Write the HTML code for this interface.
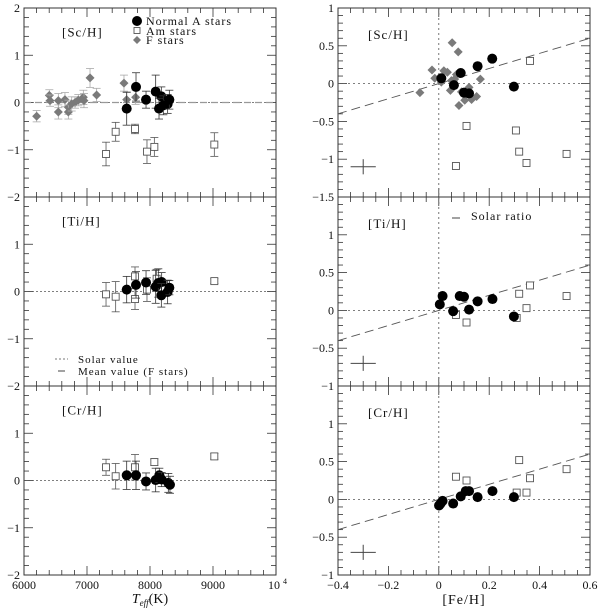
<!DOCTYPE html>
<html><head><meta charset="utf-8">
<style>
html,body{margin:0;padding:0;background:#fff;}
svg{display:block;font-family:"Liberation Serif",serif;}
</style></head>
<body>
<svg id="c" width="600" height="609" viewBox="0 0 600 609" xmlns="http://www.w3.org/2000/svg"></svg>
<script>
// ---------- Left column: abundance vs Teff ----------
const scF_T=[6201,6402,6413,6545,6545,6650,6704,6704,6757,6810,6862,6942,6952,7048,7153,7587,7630,7772];
const scF_v=[-0.29,0.15,0.04,0.04,-0.2,0.06,-0.1,-0.2,-0.03,0.0,0.05,0.11,0.04,0.52,0.16,0.41,0.06,0.11];
const scF_e=[0.12,0.12,0.12,0.15,0.15,0.15,0.15,0.15,0.15,0.12,0.12,0.15,0.15,0.2,0.14,0.17,0.15,0.15];
const scA_T=[7630,7778,7937,8090,8180,8143,8212,8280,8307];
const scA_v=[-0.13,0.33,0.06,0.23,0.13,-0.13,-0.06,-0.03,0.06];
const scA_e=[0.35,0.3,0.18,0.35,0.2,0.22,0.2,0.2,0.2];
const scM_T=[7302,7455,7762,7952,8069,9021];
const scM_v=[-1.09,-0.62,-0.56,-1.04,-0.94,-0.89];
const scM_e=[0.25,0.2,0.1,0.25,0.2,0.25];

const tiA_T=[7630,7778,7937,8090,8132,8185,8180,8280,8307];
const tiA_v=[0.04,0.14,0.19,0.1,0.18,0.2,-0.08,-0.01,0.08];
const tiA_e=[0.28,0.28,0.25,0.35,0.3,0.2,0.25,0.25,0.15];
const tiM_T=[7302,7455,7762,7762,7952,8105,9021];
const tiM_v=[-0.06,-0.11,0.32,-0.16,0.04,0.27,0.22];
const tiM_e=[0.25,0.32,0.2,0.22,0.25,0.2,0.05];

const crA_T=[7630,7778,7937,8090,8148,8185,8291,8317];
const crA_v=[0.11,0.11,-0.02,0.01,0.11,0.02,-0.05,-0.09];
const crA_e=[0.3,0.3,0.18,0.25,0.15,0.15,0.2,0.18];
const crM_T=[7302,7455,7762,8069,9021];
const crM_v=[0.28,0.09,0.28,0.39,0.51];
const crM_e=[0.17,0.27,0.27,0.07,0.06];

// ---------- Right column: abundance vs [Fe/H] ----------
const rScA_x=[0.01,0.087,0.154,0.212,0.298,0.06,0.12,0.1];
const rScA_v=[0.07,0.14,0.23,0.33,-0.04,-0.02,-0.13,-0.12];
const rScM_x=[0.068,0.11,0.306,0.319,0.348,0.362,0.507];
const rScM_v=[-1.09,-0.56,-0.62,-0.9,-1.05,0.3,-0.93];
const rScF_x=[-0.075,-0.027,-0.016,0.02,0.034,0.053,0.077,0.05,0.063,0.046,0.08,0.09,0.103,0.12,0.13,0.15,0.165,0.01,0.07];
const rScF_v=[-0.12,0.18,0.07,0.17,0.15,0.54,0.42,0.04,0.06,-0.09,-0.29,-0.11,-0.22,-0.05,-0.21,-0.17,0.06,0.02,0.12];

const rTiA_x=[0.004,0.015,0.057,0.083,0.1,0.12,0.154,0.213,0.298];
const rTiA_v=[0.08,0.19,-0.01,0.19,0.18,0.01,0.12,0.15,-0.08];
const rTiM_x=[0.068,0.11,0.309,0.319,0.348,0.362,0.507];
const rTiM_v=[-0.06,-0.16,-0.1,0.22,0.03,0.33,0.19];

const rCrA_x=[0.001,0.007,0.015,0.057,0.087,0.107,0.12,0.154,0.213,0.298];
const rCrA_v=[-0.08,-0.055,-0.02,-0.055,0.04,0.11,0.11,0.03,0.11,0.03];
const rCrM_x=[0.068,0.11,0.309,0.319,0.348,0.362,0.507];
const rCrM_v=[0.3,0.25,0.09,0.52,0.09,0.28,0.4];

const leftXTicks=[6000,7000,8000,9000];
const rightXTicks=[-0.4,-0.2,0,0.2,0.4,0.6];

const NS="http://www.w3.org/2000/svg";
const svg=document.getElementById('c');
const GRAY="#7a7a7a";
function mk(tag,attrs,parent){const e=document.createElementNS(NS,tag);for(const k in attrs)e.setAttribute(k,attrs[k]);(parent||svg).appendChild(e);return e;}
function txt(s,x,y,anchor,size,parent,ls){const t=mk('text',{x:x,y:y,'text-anchor':anchor,'font-size':size,fill:'#111','letter-spacing':ls||0},parent);t.textContent=s;return t;}

const rows=[[8,197],[197,386],[386,575]];
const LX=[24,276], RX=[338,590];

function makePanel(name,xr,xd,yr,yd){
  const g=mk('g',{});
  
  
  const sx=v=>xr[0]+(v-xd[0])/(xd[1]-xd[0])*(xr[1]-xr[0]);
  const sy=v=>yr[1]-(v-yd[0])/(yd[1]-yd[0])*(yr[1]-yr[0]);
  return {g,sx,sy};
}
function frame(p,xr,yr,xMinor,xMajor,xd,yMinor,yMajor,yd){
  const g=p.g;
  const eps=1e-9;
  for(let v=xd[0];v<=xd[1]+eps;v+=xMinor){
    const x=p.sx(v);const maj=Math.abs(v/xMajor-Math.round(v/xMajor))<1e-6;const L=maj?9:5;
    mk('line',{x1:x,x2:x,y1:yr[1],y2:yr[1]-L,stroke:'#333','stroke-width':0.8},g);
    mk('line',{x1:x,x2:x,y1:yr[0],y2:yr[0]+L,stroke:'#333','stroke-width':0.8},g);
  }
  for(let v=yd[0];v<=yd[1]+eps;v+=yMinor){
    const y=p.sy(v);const maj=Math.abs(v/yMajor-Math.round(v/yMajor))<1e-6;const L=maj?9:5;
    mk('line',{x1:xr[0],x2:xr[0]+L,y1:y,y2:y,stroke:'#333','stroke-width':0.8},g);
    mk('line',{x1:xr[1],x2:xr[1]-L,y1:y,y2:y,stroke:'#333','stroke-width':0.8},g);
  }
  mk('rect',{x:xr[0],y:yr[0],width:xr[1]-xr[0],height:yr[1]-yr[0],fill:'none',stroke:'#333','stroke-width':1},g);
}
function ylabels(p,vals,x,fmt){
  vals.forEach(v=>{const t=txt(fmt(v),x,p.sy(v)+4,'end',12,p.g);
    
    });
}
function circles(p,xs,vs,es){
  xs.forEach((x,i)=>{
    if(es){errbar(p,x,vs[i],es[i],'#333');}
    const c=mk('circle',{cx:p.sx(x),cy:p.sy(vs[i]),r:5,fill:'#000'},p.g);
    
    
  });
}
function squares(p,xs,vs,es){
  xs.forEach((x,i)=>{
    if(es){errbar(p,x,vs[i],es[i],'#555');}
    const s=mk('rect',{x:p.sx(x)-3.5,y:p.sy(vs[i])-3.5,width:7,height:7,fill:'#fff',stroke:'#555','stroke-width':0.9},p.g);
    
    
  });
}
function diamonds(p,xs,vs,es){
  xs.forEach((x,i)=>{
    if(es){errbar(p,x,vs[i],es[i],'#aaa');}
    const cx=p.sx(x),cy=p.sy(vs[i]),r=4.5;
    const d=mk('polygon',{points:`${cx},${cy-r} ${cx+r},${cy} ${cx},${cy+r} ${cx-r},${cy}`,fill:GRAY},p.g);
    
    
  });
}
function errbar(p,x,v,e,col){
  const cx=p.sx(x),y1=p.sy(v+e),y2=p.sy(v-e);
  mk('line',{x1:cx,x2:cx,y1:y1,y2:y2,stroke:col,'stroke-width':0.8},p.g);
  mk('line',{x1:cx-4,x2:cx+4,y1:y1,y2:y1,stroke:col,'stroke-width':0.8},p.g);
  mk('line',{x1:cx-4,x2:cx+4,y1:y2,y2:y2,stroke:col,'stroke-width':0.8},p.g);
}
function hline(p,v,xr,dash,col,w){mk('line',{x1:xr[0],x2:xr[1],y1:p.sy(v),y2:p.sy(v),stroke:col,'stroke-width':w||0.8,'stroke-dasharray':dash},p.g);}

// Left panels
const leftDefs=[
 {name:'sc-teff-panel',label:'[Sc/H]',F:[scF_T,scF_v,scF_e],A:[scA_T,scA_v,scA_e],M:[scM_T,scM_v,scM_e],yl:[2,1,0,-1,-2],mean:true},
 {name:'ti-teff-panel',label:'[Ti/H]',A:[tiA_T,tiA_v,tiA_e],M:[tiM_T,tiM_v,tiM_e],yl:[1,0,-1,-2]},
 {name:'cr-teff-panel',label:'[Cr/H]',A:[crA_T,crA_v,crA_e],M:[crM_T,crM_v,crM_e],yl:[1,0,-1,-2]}
];
leftDefs.forEach((d,i)=>{
  const yr=rows[i];
  const p=makePanel(d.name,LX,[6000,10000],yr,[-2,2]);
  frame(p,LX,yr,200,1000,[6000,10000],0.2,1,[-2,2]);
  hline(p,0,LX,'2,2','#555');
  if(d.mean){hline(p,0.0,LX,'7,4','#999',1.2);}
  ylabels(p,d.yl,20,v=>v<0?'\u2212'+(-v):String(v));
  const t=txt(d.label,62,p.sy(1.5)+5,'start',13,p.g,1);
  
  
  if(d.F)diamonds(p,d.F[0],d.F[1],d.F[2]);
  squares(p,d.M[0],d.M[1],d.M[2]);
  circles(p,d.A[0],d.A[1],d.A[2]);
  if(i===2){
    leftXTicks.forEach(v=>{const t=txt(String(v),p.sx(v),589,'middle',12,p.g);
      
      });
    const t=txt('10',p.sx(10000)-2,589,'middle',12,p.g);
    
    
    txt('4',p.sx(10000)+7,584,'start',8,p.g);
  }
  if(i===0){
    const lg=mk('g',{});
    
    
    mk('circle',{cx:137,cy:21,r:5,fill:'#000'},lg); txt('Normal A stars',146,25,'start',12,lg,1);
    mk('rect',{x:134,y:27.5,width:6,height:6,fill:'#fff',stroke:'#555','stroke-width':0.9},lg); txt('Am stars',146,35,'start',12,lg,1);
    mk('polygon',{points:'137,36 141,40 137,44 133,40',fill:GRAY},lg); txt('F stars',146,44,'start',12,lg,1);
  }
  if(i===1){
    const lg=mk('g',{});
    
    
    mk('line',{x1:55,x2:68,y1:359,y2:359,stroke:'#777','stroke-dasharray':'2,2'},lg);
    txt('Solar value',78,363,'start',11,lg,1);
    mk('line',{x1:58,x2:65,y1:371,y2:371,stroke:'#444'},lg);
    txt('Mean value (F stars)',78,375,'start',11,lg,1);
  }
});
const xt=mk('text',{x:150,y:603,'text-anchor':'middle','font-size':14,fill:'#111'});


xt.innerHTML='<tspan font-style="italic">T</tspan><tspan font-size="9" dy="3" font-style="italic">eff</tspan><tspan dy="-3">(K)</tspan>';

// Right panels
const rightDefs=[
 {name:'sc-feh-panel',label:'[Sc/H]',yd:[-1.5,1],F:[rScF_x,rScF_v],A:[rScA_x,rScA_v],M:[rScM_x,rScM_v],yl:[1,0.5,0,-0.5,-1,-1.5],cross:-1.1},
 {name:'ti-feh-panel',label:'[Ti/H]',yd:[-1,1.5],A:[rTiA_x,rTiA_v],M:[rTiM_x,rTiM_v],yl:[1,0.5,0,-0.5,-1],cross:-0.7},
 {name:'cr-feh-panel',label:'[Cr/H]',yd:[-1,1.5],A:[rCrA_x,rCrA_v],M:[rCrM_x,rCrM_v],yl:[1,0.5,0,-0.5,-1],cross:-0.7}
];
rightDefs.forEach((d,i)=>{
  const yr=rows[i];
  const p=makePanel(d.name,RX,[-0.4,0.6],yr,d.yd);
  frame(p,RX,yr,0.05,0.2,[-0.4,0.6],0.1,0.5,d.yd);
  hline(p,0,RX,'2,3','#555');
  mk('line',{x1:p.sx(0),x2:p.sx(0),y1:yr[0],y2:yr[1],stroke:'#555','stroke-width':0.8,'stroke-dasharray':'2,3'},p.g);
  const sl=mk('line',{x1:p.sx(-0.4),y1:p.sy(-0.4),x2:p.sx(0.6),y2:p.sy(0.6),stroke:'#555','stroke-width':0.9,'stroke-dasharray':'9,5'},p.g);
  
  
  ylabels(p,d.yl,334,v=>v<0?'\u2212'+(-v):String(v));
  const t=txt(d.label,368,p.sy(d.yd[1])+31,'start',13,p.g,1);
  
  
  if(d.F)diamonds(p,d.F[0],d.F[1]);
  squares(p,d.M[0],d.M[1]);
  circles(p,d.A[0],d.A[1]);
  const cx=p.sx(-0.3),cy=p.sy(d.cross);
  const cg=mk('g',{},p.g);
  
  
  mk('line',{x1:p.sx(-0.35),x2:p.sx(-0.25),y1:cy,y2:cy,stroke:'#444'},cg);
  mk('line',{x1:cx,x2:cx,y1:p.sy(d.cross+0.1),y2:p.sy(d.cross-0.1),stroke:'#444'},cg);
  if(i===1){
    mk('line',{x1:452,x2:460,y1:218,y2:218,stroke:'#444'},p.g);
    const t2=txt('Solar ratio',471,220,'start',12,p.g,1);
    
    
  }
  if(i===2){
    rightXTicks.forEach(v=>{const s=v<0?'\u2212'+(-v):String(v);const t=txt(s,p.sx(v),589,'middle',12,p.g);
      
      });
  }
});
const xt2=txt('[Fe/H]',464,604,'middle',14,null,1);


</script>
</body></html>
